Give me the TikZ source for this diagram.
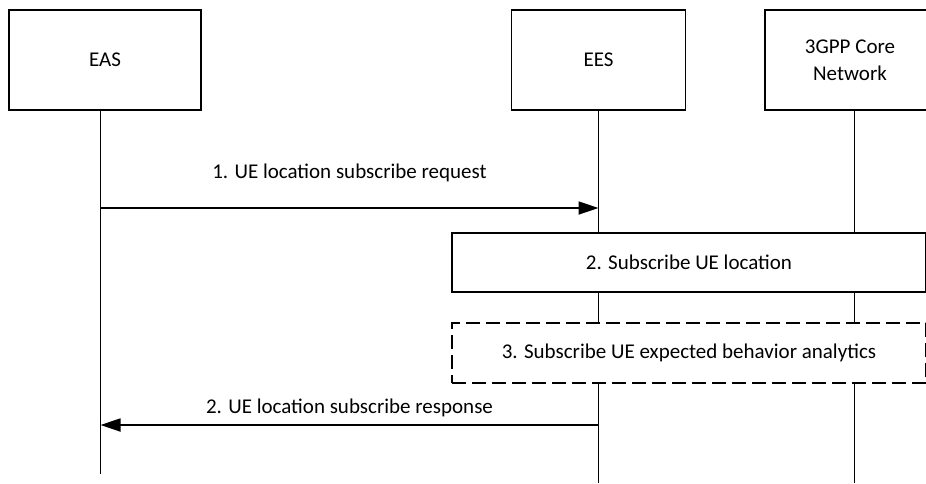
\documentclass[tikz,border=0pt]{standalone}
\usepackage{fontspec}
\setmainfont{Carlito}
\usetikzlibrary{arrows.meta, positioning}

\tikzset{
  entity/.style={draw, line width=1.2pt, fill=white, align=center, minimum height=100pt, inner sep=0pt, font=\fontsize{21}{27}\selectfont},
  stepbox/.style={draw, line width=1.2pt, fill=white, minimum width=474pt, minimum height=59pt, inner sep=0pt, font=\fontsize{21}{25}\selectfont},
  lifeline/.style={line width=1pt},
  msg/.style={line width=1.8pt, -{Triangle[length=20pt, width=13pt]}},
  msglabel/.style={font=\fontsize{21}{25}\selectfont}
}

\begin{document}
\begin{tikzpicture}[x=1pt, y=-1pt]
      \useasboundingbox (0,0) rectangle (926,483);

      % entities
      \node[entity, minimum width=192pt] (eas) at (105,60) {EAS};
      \node[entity, minimum width=174pt] (ees) at (598.5,60) {EES};
      \node[entity, minimum width=170pt] (cn) at (850,60) {3GPP Core\\Network};

      % lifelines
      \coordinate (eas-end) at (100.5,474);
      \coordinate (ees-end) at (598.5,483);
      \coordinate (cn-end) at (854.5,483);
      \draw[lifeline] ([xshift=-4.5pt]eas.south) -- (eas-end);
      \draw[lifeline] (ees.south) -- (ees-end);
      \draw[lifeline] ([xshift=4.5pt]cn.south) -- (cn-end);

      % steps
      \node[stepbox] (subloc) at (689,262.5) {2. Subscribe UE location};
      \node[stepbox, dash pattern=on 14pt off 6pt, minimum height=60pt] (subana) at (689,353) {3. Subscribe UE expected behavior analytics};

      % messages
      \coordinate (eas-m1) at (100.5,208);
      \coordinate (ees-m1) at (598.5,208);
      \coordinate (ees-m2) at (598.5,425);
      \coordinate (eas-m2) at (100.5,425);
      \draw[msg] (eas-m1) -- (ees-m1) node[msglabel, midway, yshift=35pt] (req) {1. UE location subscribe request};
      \draw[msg] (ees-m2) -- (eas-m2) node[msglabel, midway, yshift=17pt] (resp) {2. UE location subscribe response};
\end{tikzpicture}
\end{document}
